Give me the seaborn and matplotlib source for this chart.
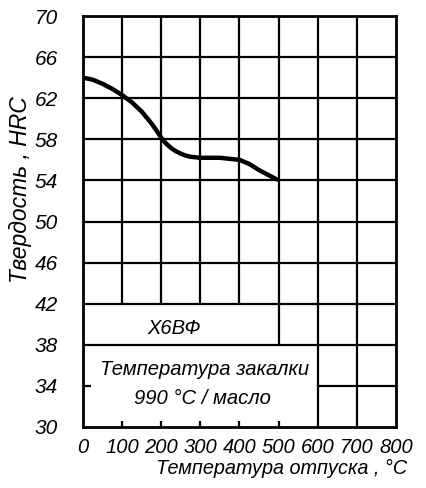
import matplotlib
matplotlib.use("Agg")
import matplotlib.pyplot as plt
import seaborn as sns
import pandas as pd

# Tempering curve for steel Х6ВФ (oil quench from 990 °C)
temper_temp = [0, 25, 50, 75, 100, 125, 150, 175, 188, 200, 212, 225, 237,
               250, 262, 275, 300, 350, 400, 425, 450, 475, 495]
hardness = [64.0, 63.8, 63.4, 62.9, 62.3, 61.6, 60.7, 59.55, 58.85, 58.15,
            57.6, 57.15, 56.85, 56.6, 56.42, 56.3, 56.2, 56.2, 56.0, 55.6,
            55.0, 54.5, 54.1]

x_ticks = [0, 100, 200, 300, 400, 500, 600, 700, 800]
y_ticks = [30, 34, 38, 42, 46, 50, 54, 58, 62, 66, 70]

steel_label = "Х6ВФ"
quench_line1 = "Температура закалки"
quench_line2 = "990 °C / масло"
x_title = "Температура отпуска , °C"
y_title = "Твердость , HRC"

sns.set_style("white")
plt.rcParams["font.family"] = ["Liberation Sans", "DejaVu Sans"]
plt.rcParams["font.style"] = "italic"
for key in ["text.color", "axes.labelcolor", "xtick.color", "ytick.color",
            "xtick.labelcolor", "ytick.labelcolor"]:
    plt.rcParams[key] = "black"

fig = plt.figure(figsize=(4.26, 4.88), dpi=100)
ax = fig.add_axes([0.1948, 0.125, 0.7348, 0.8422])

df = pd.DataFrame({"t": temper_temp, "hrc": hardness})
sns.lineplot(data=df, x="t", y="hrc", ax=ax, color="black", linewidth=3.2,
             solid_capstyle="round", solid_joinstyle="round", zorder=5)

ax.set_xlim(0, 800)
ax.set_ylim(30, 70)

grid_kw = dict(color="black", linewidth=1.6, zorder=2)
# horizontal grid lines across the chart field
for y in [42, 46, 50, 54, 58, 62, 66, 38]:
    ax.hlines(y, 0, 800, **grid_kw)
ax.hlines(34, 600, 800, **grid_kw)
# vertical grid lines
for x in [100, 200, 300, 400]:
    ax.vlines(x, 42, 70, **grid_kw)
ax.vlines(500, 38, 70, **grid_kw)
for x in [600, 700]:
    ax.vlines(x, 30, 70, **grid_kw)
# short inner ticks on the lower panel
for x in [100, 200, 300, 400, 500]:
    ax.vlines(x, 30, 30.6, **grid_kw)
ax.hlines(34, 0, 20, **grid_kw)

for s in ax.spines.values():
    s.set_linewidth(2.0)
    s.set_color("black")

ax.set_xticks(x_ticks)
ax.set_yticks(y_ticks)
ax.set_xticklabels([str(v) for v in x_ticks], fontsize=14.5, style="italic")
ax.set_yticklabels([str(v) for v in y_ticks], fontsize=15, style="italic")
ax.tick_params(axis="x", length=0, pad=8)
ax.tick_params(axis="y", length=0, pad=18)
ax.set_xlabel("")
ax.set_ylabel("")

ax.text(234, 39.6, steel_label, ha="center", va="center", fontsize=14.5,
        style="italic")
ax.text(310, 35.6, quench_line1, ha="center", va="center", fontsize=14.6,
        style="italic")
ax.text(306, 32.8, quench_line2, ha="center", va="center", fontsize=14.6,
        style="italic")

fig.text(282 / 426, 1 - 468 / 488, x_title, ha="center", va="center",
         fontsize=14.3, style="italic")
fig.text(21 / 426, 1 - 190 / 488, y_title, ha="center", va="center",
         rotation=90, fontsize=16.5, style="italic")

fig.savefig("out.png", dpi=100, facecolor="white")
